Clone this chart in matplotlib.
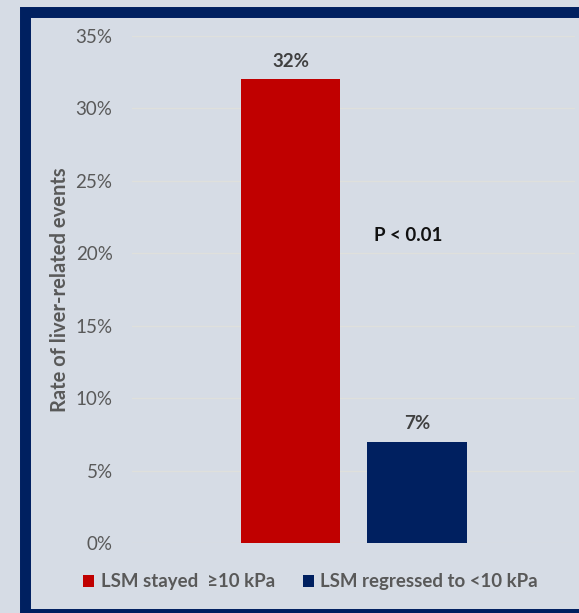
import matplotlib
matplotlib.use("Agg")
import matplotlib.pyplot as plt
from matplotlib.patches import Patch, Rectangle
from matplotlib.ticker import PercentFormatter

# liver-related event rates by LSM course
groups = ["LSM stayed  \u226510 kPa", "LSM regressed to <10 kPa"]
rates = [0.32, 0.07]
bar_colors = ["#c00000", "#002060"]
yticks = [0, 0.05, 0.10, 0.15, 0.20, 0.25, 0.30, 0.35]
p_text = "P < 0.01"

bg = "#d6dce5"
grey = "#595959"

plt.rcParams["font.family"] = ["Lato", "DejaVu Sans"]

fig = plt.figure(figsize=(5.79, 6.13), dpi=100, facecolor=bg)
ax = fig.add_axes([0.228, 0.1142, 0.765, 0.827], facecolor=bg)

x = list(range(len(rates)))
ax.bar(x, rates, width=0.79, color=bar_colors, zorder=3)

for xi, r in zip(x, rates):
    ax.text(xi, r + 0.0125, f"{r * 100:.0f}%", ha="center", va="center",
            fontsize=13.5, fontweight="bold", color="#404040")

ax.text(0.93, 0.212, p_text, ha="center", va="center", fontsize=13.5,
        fontweight="bold", color="#111111")

ax.set_xlim(-1.253, 2.249)
ax.set_ylim(0, 0.35)
ax.set_yticks(yticks)
ax.yaxis.set_major_formatter(PercentFormatter(1.0, decimals=0))
ax.set_xticks([])
ax.tick_params(axis="y", length=0, labelsize=13.5, labelcolor=grey, pad=14)
ax.grid(axis="y", color="#dfe0dc", linewidth=0.9, zorder=0)
for s in ax.spines.values():
    s.set_visible(False)

ax.set_ylabel("Rate of liver-related events", fontsize=14.5, fontweight="bold",
              color=grey)
ax.yaxis.set_label_coords(-0.14, 0.5)

handles = [Patch(facecolor=c, edgecolor="none") for c in bar_colors]
fig.legend(handles, groups, loc="center", bbox_to_anchor=(0.536, 0.0506),
           ncol=2, frameon=False, handlelength=0.6, handleheight=0.6,
           handletextpad=0.35, columnspacing=1.5,
           prop={"size": 13.4, "weight": "bold"}, labelcolor=grey)

# dark navy frame around the panel
frame = Rectangle((25.5 / 579, -0.5 / 613), 1.2, (613 - 11.5 + 0.5) / 613,
                  transform=fig.transFigure, fill=False,
                  edgecolor="#002060", linewidth=7.9, zorder=10)
fig.add_artist(frame)

fig.savefig("out.png", dpi=100, facecolor=bg)
